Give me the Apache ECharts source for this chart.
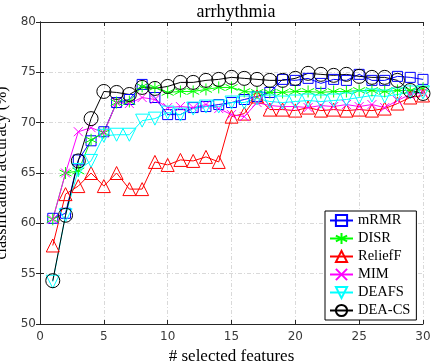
<!DOCTYPE html>
<html>
<head>
<meta charset="utf-8">
<script src="https://cdn.jsdelivr.net/npm/echarts@6/dist/echarts.min.js"></script>
<style>
  html, body { margin: 0; padding: 0; background: #fff; }
  #chart { width: 434px; height: 364px; }
</style>
</head>
<body>
<div id="chart"></div>
<script>
const features = [1,2,3,4,5,6,7,8,9,10,11,12,13,14,15,16,17,18,19,20,21,22,23,24,25,26,27,28,29,30];
const xTicks = [0, 5, 10, 15, 20, 25, 30];
const yTicks = [50, 55, 60, 65, 70, 75, 80];

const mRMR = [60.5, 61.0, 66.3, 68.2, 69.1, 72.0, 72.3, 73.8, 72.5, 70.8, 70.8, 71.5, 71.6, 71.8, 72.0, 72.3, 72.6, 73.0, 74.3, 74.2, 74.4, 73.9, 74.3, 74.2, 74.8, 74.2, 74.2, 74.6, 74.5, 74.3];
const DISR = [60.4, 65.0, 65.2, 68.3, 69.0, 72.0, 72.1, 73.6, 73.5, 73.0, 73.1, 73.1, 73.3, 73.5, 73.5, 73.1, 73.0, 73.0, 73.0, 73.1, 73.1, 73.0, 73.1, 73.1, 73.2, 73.2, 73.1, 73.2, 73.2, 73.4];
const ReliefF = [57.8, 62.9, 63.7, 65.0, 63.7, 65.0, 63.4, 63.4, 66.1, 65.8, 66.3, 66.2, 66.6, 66.1, 70.6, 70.9, 72.6, 71.3, 71.3, 71.2, 71.5, 71.2, 71.3, 71.2, 71.3, 71.2, 71.4, 71.9, 72.5, 72.7];
const MIM = [60.4, 65.0, 69.1, 69.5, 69.0, 72.0, 71.9, 72.5, 72.3, 71.5, 71.6, 71.5, 71.8, 71.4, 70.8, 70.6, 72.0, 71.7, 71.6, 71.6, 71.5, 71.7, 71.6, 71.8, 71.6, 71.8, 71.5, 72.2, 72.8, 73.0];
const DEAFS = [54.2, 60.8, 65.3, 66.2, 68.7, 68.8, 68.8, 70.2, 70.4, 71.0, 70.8, 71.4, 71.6, 71.6, 72.0, 72.0, 72.4, 72.1, 72.0, 72.1, 72.2, 72.1, 72.2, 72.3, 72.5, 72.7, 72.6, 72.8, 73.0, 73.0];
const DEACS = [54.3, 60.8, 66.2, 70.4, 73.1, 73.0, 72.8, 73.5, 73.4, 73.6, 74.0, 74.0, 74.2, 74.3, 74.5, 74.4, 74.3, 74.2, 74.2, 74.4, 74.9, 74.8, 74.7, 74.8, 74.6, 74.5, 74.5, 74.2, 73.2, 72.9];

const serif = 'Liberation Serif';
const axisGray = '#262626';
const gridDash = { color: '#d9d9d9', width: 1, type: [4, 2, 1, 2] };

// matlab-style '*' and 'x' markers, stroked only
const asterisk = 'path://M0,-10L0,10M-8.66,-5L8.66,5M-8.66,5L8.66,-5';
const cross = 'path://M-10,-10L10,10M-10,10L10,-10';

function makeSeries(name, values, color, symbol, size, rotate) {
  return {
    name: name,
    type: 'line',
    data: features.map((f, i) => [f, values[i]]),
    symbol: symbol,
    symbolSize: size,
    symbolRotate: rotate || 0,
    showSymbol: true,
    lineStyle: { color: color, width: 1 },
    itemStyle: { color: 'rgba(0,0,0,0)', borderColor: color, borderWidth: 1 },
    emphasis: { disabled: true },
    animation: false
  };
}

const chart = echarts.init(document.getElementById('chart'));
const option = {
  animation: false,
  title: {
    text: 'arrhythmia',
    left: 231, top: -2, textAlign: 'center',
    textStyle: { fontFamily: serif, fontSize: 18, fontWeight: 'normal', color: '#000' }
  },
  grid: { left: 40, right: 11, top: 22, bottom: 40, outerBoundsMode: 'none', containLabel: false },
  legend: {
    orient: 'vertical',
    left: 325, top: 211,
    itemWidth: 23, itemHeight: 14, itemGap: 3,
    padding: [2, 6, 2, 4],
    borderColor: '#000', borderWidth: 1, backgroundColor: '#fff',
    textStyle: { fontFamily: serif, fontSize: 14.5, color: '#000' },
    data: ['mRMR', 'DISR', 'ReliefF', 'MIM', 'DEAFS', 'DEA-CS']
  },
  xAxis: [{
    type: 'value', min: 0, max: 30, interval: 5,
    name: '# selected features', nameLocation: 'middle', nameGap: 19,
    nameTextStyle: { fontFamily: serif, fontSize: 17, color: '#000' },
    axisLine: { lineStyle: { color: axisGray } },
    axisTick: { inside: true, length: 4, lineStyle: { color: axisGray } },
    axisLabel: { fontFamily: 'DejaVu Sans', fontSize: 12, color: '#3a3a3a', margin: 7,
      formatter: v => xTicks.includes(v) ? String(v) : '' },
    splitLine: { show: true, lineStyle: gridDash }
  }, {
    type: 'value', min: 0, max: 30, interval: 5, position: 'top',
    axisLine: { lineStyle: { color: axisGray } },
    axisTick: { inside: true, length: 4, lineStyle: { color: axisGray } },
    axisLabel: { show: false }, splitLine: { show: false }
  }],
  yAxis: [{
    type: 'value', min: 50, max: 80, interval: 5,
    name: 'classification accuracy (%)', nameLocation: 'middle', nameGap: 22,
    nameTextStyle: { fontFamily: serif, fontSize: 16, color: '#000' },
    axisLine: { show: true, lineStyle: { color: axisGray } },
    axisTick: { show: true, inside: true, length: 4, lineStyle: { color: axisGray } },
    axisLabel: { fontFamily: 'DejaVu Sans', fontSize: 12, color: '#3a3a3a', margin: 4,
      formatter: v => yTicks.includes(v) ? String(v) : '' },
    splitLine: { show: true, lineStyle: gridDash }
  }, {
    type: 'value', min: 50, max: 80, interval: 5, position: 'right',
    axisLine: { show: true, lineStyle: { color: axisGray } },
    axisTick: { show: true, inside: true, length: 4, lineStyle: { color: axisGray } },
    axisLabel: { show: false }, splitLine: { show: false }
  }],
  series: [
    makeSeries('mRMR', mRMR, '#0000ff', 'rect', 10),
    makeSeries('DISR', DISR, '#00ff00', asterisk, 12),
    makeSeries('ReliefF', ReliefF, '#ff0000', 'triangle', 13),
    makeSeries('MIM', MIM, '#ff00ff', cross, 9),
    makeSeries('DEAFS', DEAFS, '#00ffff', 'triangle', 13, 180),
    makeSeries('DEA-CS', DEACS, '#000000', 'circle', 14)
  ]
};
chart.setOption(option);
</script>
</body>
</html>
